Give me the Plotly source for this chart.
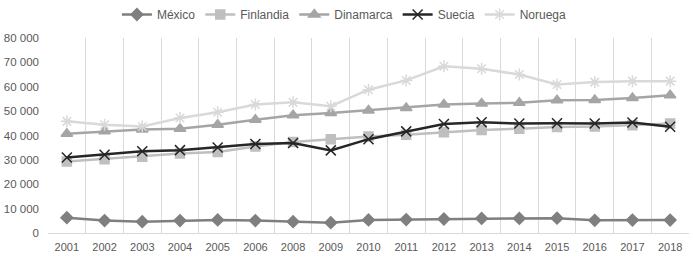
import plotly.graph_objects as go

years = ["2001","2002","2003","2004","2005","2006","2008","2009","2010","2011","2012","2013","2014","2015","2016","2017","2018"]
mexico = [6300,5100,4650,5100,5350,5100,4650,4250,5350,5500,5750,6000,6000,6100,5200,5300,5300]
finlandia = [29300,30300,31300,32600,33200,35500,37300,38500,39600,40300,41300,42300,42800,43500,43700,44200,44900]
dinamarca = [40700,41700,42500,42800,44400,46500,48300,49200,50300,51300,52700,53100,53400,54500,54600,55400,56500]
suecia = [31000,32100,33500,34000,35100,36500,36900,33900,38500,41700,44700,45400,44900,45000,44900,45300,43600]
noruega = [45800,44400,43700,47200,49500,52700,53600,52000,58800,62600,68400,67400,65000,60900,61900,62300,62300]
y_ticks = [0,10000,20000,30000,40000,50000,60000,70000,80000]

series = [
    ("México", mexico, "#7f7f7f", "diamond", 9),
    ("Finlandia", finlandia, "#bfbfbf", "square", 9),
    ("Dinamarca", dinamarca, "#a5a5a5", "triangle-up", 10),
    ("Suecia", suecia, "#262626", "x-thin-open", 10),
    ("Noruega", noruega, "#d9d9d9", "asterisk-open", 10),
]

fig = go.Figure()
for name, vals, col, sym, sz in series:
    fig.add_trace(go.Scatter(
        x=years, y=vals, name=name, mode="lines+markers",
        line=dict(color=col, width=2.5),
        marker=dict(symbol=sym, size=sz, color=col, line=dict(color=col, width=1.5)),
    ))

fig.update_layout(
    width=693, height=261,
    margin=dict(l=48, r=4, t=38, b=28, autoexpand=False),
    paper_bgcolor="white", plot_bgcolor="white",
    separators=", ",
    font=dict(family="Liberation Sans, Arial", size=11, color="#595959"),
    legend=dict(orientation="h", x=0.497, xanchor="center", xref="container",
                y=1.0, yanchor="top", yref="container",
                font=dict(family="Liberation Sans, Arial", size=12, color="#595959"),
                itemwidth=30, tracegroupgap=0),
    showlegend=True,
)
fig.update_xaxes(type="category", range=[-0.5, len(years) - 0.5], tickson="boundaries",
                 showgrid=True, gridcolor="#d9d9d9", gridwidth=1, showline=True,
                 linecolor="#d9d9d9", ticks="", automargin=False, ticklabelstandoff=4,
                 tickfont=dict(size=11))
fig.update_yaxes(range=[0, 80000], tickvals=y_ticks, tickformat=",d", showgrid=False,
                 zeroline=False, showline=False, ticks="", automargin=False,
                 ticklabelstandoff=8, tickfont=dict(size=11.5))

fig.write_html("out.html", config={"displayModeBar": False},
               post_script="document.body.style.margin='0';")
